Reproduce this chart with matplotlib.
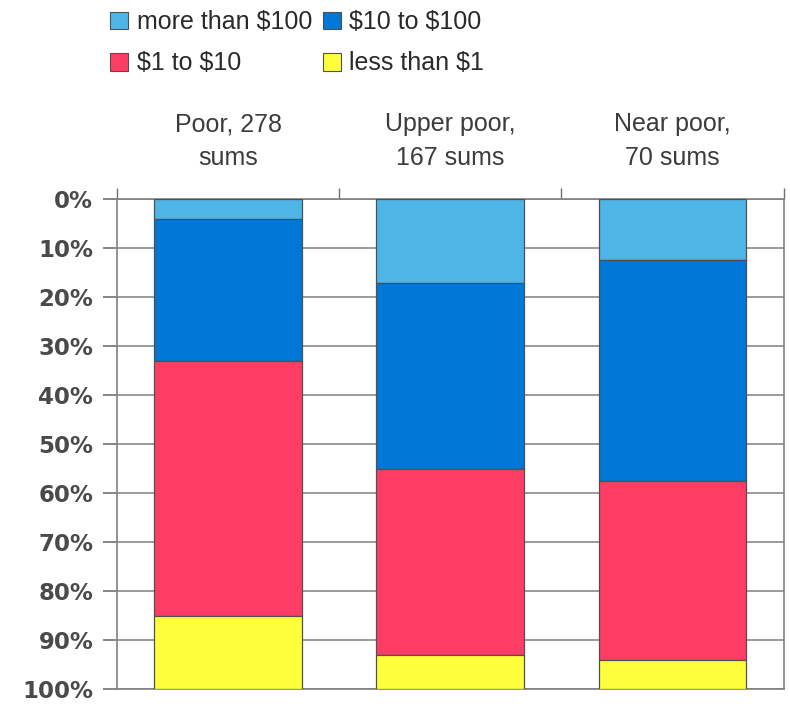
import numpy as np
import matplotlib.pyplot as plt
from matplotlib.patches import Patch

plt.rcParams["text.parse_math"] = False

groups = ["Poor, 278\nsums", "Upper poor,\n167 sums", "Near poor,\n70 sums"]
series = ["more than $100", "$10 to $100", "$1 to $10", "less than $1"]
over_100 = [4, 17, 12.5]
ten_to_100 = [29, 38, 45]
one_to_10 = [52, 38, 36.5]
under_1 = [15, 7, 6]
colors = ["#4db6e6", "#0078d7", "#ff3d64", "#ffff3c"]
y_ticks = list(range(0, 101, 10))

fig = plt.figure(figsize=(7.9, 7.04), dpi=100)
ax = fig.add_axes([0.148, 0.021, 0.844, 0.696])

x = np.arange(len(groups))
bottom = np.zeros(len(groups))
for vals, col in zip([over_100, ten_to_100, one_to_10, under_1], colors):
    ax.bar(x, vals, bottom=bottom, width=0.665, color=col,
           edgecolor="#505050", linewidth=0.9, zorder=3)
    bottom += np.array(vals)

ax.set_xlim(-0.5, len(groups) - 0.5)
ax.set_ylim(100, 0)
ax.set_yticks(y_ticks)
ax.set_yticklabels([f"{t}%" for t in y_ticks], fontsize=16.5, fontweight="bold",
                   color="#4a4a4a")
ax.yaxis.grid(True, color="#8a8a8a", linewidth=1.2, zorder=0)
ax.tick_params(axis="y", length=10, width=1.2, color="#707070", pad=7)

# category boundaries marked on the top axis
ax.xaxis.tick_top()
ax.set_xticks(np.arange(-0.5, len(groups)))
ax.set_xticklabels([])
ax.tick_params(axis="x", length=8, width=1.0, color="#707070", direction="out")
for s in ax.spines.values():
    s.set_color("#808080")
    s.set_linewidth(1.2)

for i, g in enumerate(groups):
    ax.text(i, 1.06, g, transform=ax.get_xaxis_transform(), ha="center",
            va="bottom", fontsize=18, family="Liberation Sans",
            color="#3c3c3c", linespacing=1.5)

handles = [Patch(facecolor=c, edgecolor="#505050", linewidth=0.8) for c in colors]
order = [0, 2, 1, 3]
fig.legend([handles[k] for k in order], [series[k] for k in order],
           ncol=2, loc="upper left", bbox_to_anchor=(0.127, 1.0),
           frameon=False, prop={"family": "Liberation Sans", "size": 18},
           handlelength=0.7, handleheight=0.7, handletextpad=0.35,
           columnspacing=0.45, labelspacing=0.7, borderaxespad=0.0,
           labelcolor="#2a2a2a")

fig.savefig("out.png", dpi=100)
